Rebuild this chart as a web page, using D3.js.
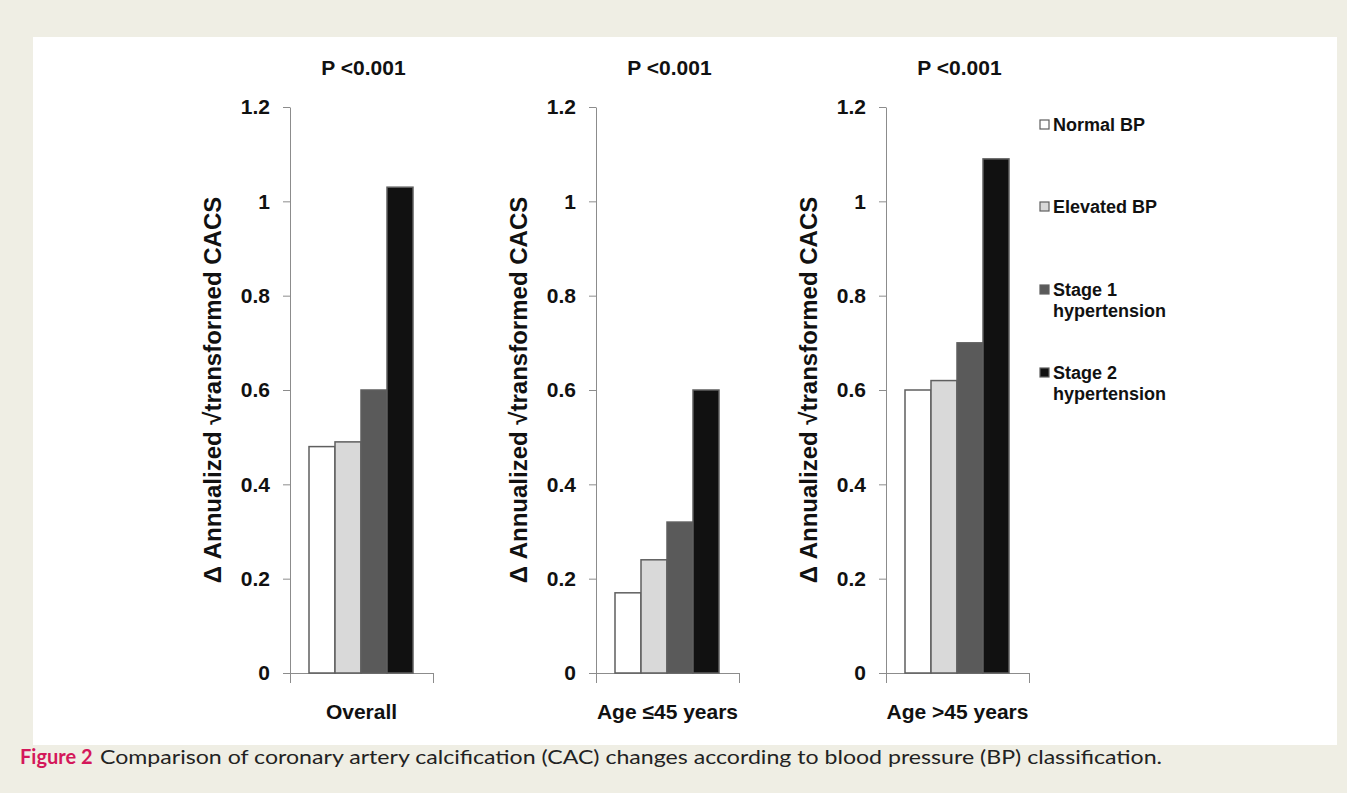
<!DOCTYPE html>
<html>
<head>
<meta charset="utf-8">
<script src="https://cdnjs.cloudflare.com/ajax/libs/d3/7.8.5/d3.min.js"></script>
<style>
  body { margin: 0; background: #efeee4; }
  svg { display: block; }
</style>
</head>
<body>
<div id="chart"></div>
<script>
// data
var categories = ["Overall", "Age \u226445 years", "Age >45 years"];
var pLabels = ["P <0.001", "P <0.001", "P <0.001"];
var groups = ["Normal BP", "Elevated BP", "Stage 1 hypertension", "Stage 2 hypertension"];
var legendLines = [["Normal BP"], ["Elevated BP"], ["Stage 1", "hypertension"], ["Stage 2", "hypertension"]];
var normalBP = [0.48, 0.17, 0.60];
var elevatedBP = [0.49, 0.24, 0.62];
var stage1 = [0.60, 0.32, 0.70];
var stage2 = [1.03, 0.60, 1.09];
var yTicks = [0, 0.2, 0.4, 0.6, 0.8, 1, 1.2];
var yTickLabels = ["0", "0.2", "0.4", "0.6", "0.8", "1", "1.2"];
var fills = ["#ffffff", "#d9d9d9", "#5a5a5a", "#111111"];

var series = [normalBP, elevatedBP, stage1, stage2];

var svg = d3.select("#chart")
  .append("svg")
  .attr("width", 1347)
  .attr("height", 793);

var width = +svg.attr("width"),
    height = +svg.attr("height");

var font = "'Liberation Sans', Arial, Helvetica, sans-serif";

// beige page + white figure panel
svg.append("rect").attr("width", width).attr("height", height).attr("fill", "#efeee4");
svg.append("rect").attr("x", 33).attr("y", 37).attr("width", 1304).attr("height", 708).attr("fill", "#ffffff");

var y = d3.scaleLinear().domain([0, 1.2]).range([673, 107]);

var panelLeft = [290, 596, 886];
var panelW = 143;

var xBar = d3.scaleBand().domain(groups).range([19, 123]).padding(0);

categories.forEach(function(cat, ci) {
  var g = svg.append("g").attr("transform", "translate(" + panelLeft[ci] + ",0)");

  // y axis
  var yAxis = d3.axisLeft(y)
    .tickValues(yTicks)
    .tickFormat(function(d, i) { return yTickLabels[i]; })
    .tickSize(7)
    .tickSizeOuter(0)
    .tickPadding(13);
  var ya = g.append("g").attr("class", "y-axis").call(yAxis);
  ya.select(".domain").attr("stroke", "#8c8c8c");
  ya.selectAll(".tick line").attr("stroke", "#8c8c8c");
  ya.selectAll(".tick text")
    .attr("fill", "#111")
    .style("font-family", font)
    .style("font-weight", "bold")
    .style("font-size", "21px");

  // category axis (excel style with boundary ticks)
  var xCat = d3.scaleLinear().domain([0, 1]).range([0, panelW]);
  var xAxis = d3.axisBottom(xCat).tickValues([0, 1]).tickFormat("").tickSize(10).tickSizeOuter(0);
  var xa = g.append("g").attr("transform", "translate(0," + y(0) + ")").call(xAxis);
  xa.select(".domain").attr("stroke", "#8c8c8c");
  xa.selectAll(".tick line").attr("stroke", "#8c8c8c");

  // bars
  g.selectAll("rect.bar")
    .data(series.map(function(s, i) { return {group: groups[i], value: s[ci], fill: fills[i]}; }))
    .enter().append("rect")
    .attr("class", "bar")
    .attr("x", function(d) { return xBar(d.group); })
    .attr("width", xBar.bandwidth())
    .attr("y", function(d) { return y(d.value); })
    .attr("height", function(d) { return y(0) - y(d.value); })
    .attr("fill", function(d) { return d.fill; })
    .attr("stroke", "#5f5f5f")
    .attr("stroke-width", 1.5);

  // P value title
  g.append("text")
    .attr("x", panelW / 2 + 2)
    .attr("y", 75)
    .attr("text-anchor", "middle")
    .style("font-family", font)
    .style("font-weight", "bold")
    .style("font-size", "21px")
    .attr("fill", "#111")
    .text(pLabels[ci]);

  // category label
  g.append("text")
    .attr("x", panelW / 2)
    .attr("y", 719)
    .attr("text-anchor", "middle")
    .style("font-family", font)
    .style("font-weight", "bold")
    .style("font-size", "21px")
    .attr("fill", "#111")
    .text(cat);

  // y axis title
  g.append("text")
    .attr("transform", "translate(-69," + 390 + ") rotate(-90)")
    .attr("text-anchor", "middle")
    .style("font-family", font)
    .style("font-weight", "bold")
    .style("font-size", "24px")
    .attr("fill", "#111")
    .text("\u0394 Annualized  \u221Atransformed CACS");
});

// legend
var legendY = [131, 213, 296, 379];
var legend = svg.append("g").attr("transform", "translate(1040,0)");
groups.forEach(function(gname, i) {
  var item = legend.append("g").attr("transform", "translate(0," + legendY[i] + ")");
  item.append("rect")
    .attr("x", 0).attr("y", -11)
    .attr("width", 9).attr("height", 9)
    .attr("fill", fills[i])
    .attr("stroke", "#5f5f5f")
    .attr("stroke-width", 1.2);
  var t = item.append("text")
    .attr("x", 13).attr("y", 0)
    .style("font-family", font)
    .style("font-weight", "bold")
    .style("font-size", "18px")
    .attr("fill", "#111");
  legendLines[i].forEach(function(line, li) {
    t.append("tspan").attr("x", 13).attr("dy", li === 0 ? 0 : 21).text(line);
  });
});

// caption
svg.append("text")
  .attr("x", 20)
  .attr("y", 764)
  .style("font-family", "Lato, 'Open Sans', sans-serif")
  .style("font-size", "20px")
  .style("font-weight", "bold")
  .attr("fill", "#d4175a")
  .text("Figure 2");
svg.append("text")
  .attr("x", 100)
  .attr("y", 764)
  .attr("textLength", 1062)
  .attr("lengthAdjust", "spacingAndGlyphs")
  .style("font-family", "Lato, 'Open Sans', sans-serif")
  .style("font-size", "19px")
  .attr("fill", "#222")
  .text("Comparison of coronary artery calcification (CAC) changes according to blood pressure (BP) classification.");
</script>
</body>
</html>
